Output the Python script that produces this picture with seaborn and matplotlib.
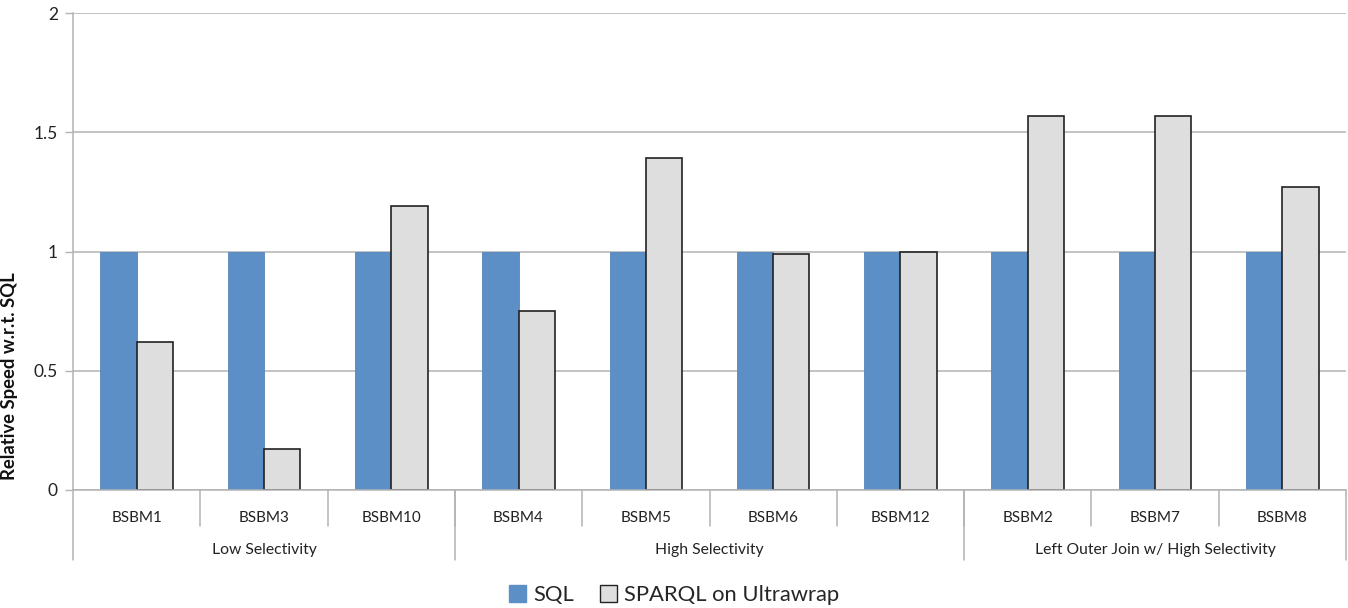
import matplotlib
matplotlib.use("Agg")
import matplotlib.pyplot as plt
import matplotlib.transforms as mtransforms
from matplotlib.patches import Patch
import seaborn as sns
import pandas as pd

categories = ["BSBM1", "BSBM3", "BSBM10", "BSBM4", "BSBM5", "BSBM6", "BSBM12",
              "BSBM2", "BSBM7", "BSBM8"]
groups = ["Low Selectivity", "High Selectivity", "Left Outer Join w/ High Selectivity"]
group_sizes = [3, 4, 3]
sql_values = [1, 1, 1, 1, 1, 1, 1, 1, 1, 1]
sparql_values = [0.62, 0.17, 1.19, 0.75, 1.39, 0.99, 1.00, 1.57, 1.57, 1.27]
series_names = ["SQL", "SPARQL on Ultrawrap"]
y_ticks = [0, 0.5, 1, 1.5, 2]
y_tick_labels = ["0", "0.5", "1", "1.5", "2"]

BLUE = "#5b8fc5"
GREY = "#dedede"

df = pd.DataFrame({
    "query": categories * 2,
    "value": sql_values + sparql_values,
    "series": [series_names[0]] * len(categories) + [series_names[1]] * len(categories),
})

sns.set_style("white")
plt.rcParams["font.family"] = ["Lato", "DejaVu Sans"]

fig = plt.figure(figsize=(13.48, 6.08), dpi=100)
ax = fig.add_axes([73 / 1348, 118 / 608, 1273 / 1348, 477 / 608])

sns.barplot(data=df, x="query", y="value", hue="series", order=categories,
            hue_order=series_names, palette=[BLUE, GREY], width=0.57, gap=0,
            ax=ax, legend=False, saturation=1)

for bar in ax.containers[0]:
    bar.set_edgecolor("#5585bb")
    bar.set_linewidth(0.6)
for bar in ax.containers[1]:
    bar.set_edgecolor("#222222")
    bar.set_linewidth(1.2)

ax.set_ylim(0, 2)
ax.set_xlim(-0.5, len(categories) - 0.5)
ax.set_yticks(y_ticks)
ax.set_yticklabels(y_tick_labels)
ax.yaxis.grid(True, color="#b3b3b3", linewidth=1.1)
ax.set_axisbelow(True)
ax.tick_params(axis="y", length=6, width=1, color="#b3b3b3", labelsize=12.5, pad=5,
               labelcolor="#222222", left=True)
ax.set_xticks([])
ax.set_xlabel("")
ax.set_ylabel("Relative Speed w.r.t. SQL", fontsize=13.3, fontweight="bold",
              color="#111111")
ax.yaxis.set_label_coords((18 - 73) / 1273, (490 - 376) / 477)

for s in ["top", "right"]:
    ax.spines[s].set_visible(False)
ax.spines["left"].set_color("#b3b3b3")
ax.spines["left"].set_linewidth(1.1)
ax.spines["bottom"].set_color("#b3b3b3")
ax.spines["bottom"].set_linewidth(1.1)

trans = mtransforms.blended_transform_factory(ax.transData, ax.transAxes)
px = 1 / 477.0
# category separators and labels
for i, c in enumerate(categories):
    ax.text(i, -28 * px, c, transform=trans, ha="center", va="center",
            fontsize=11, color="#222222")
for i in range(1, len(categories)):
    ax.plot([i - 0.5, i - 0.5], [0, -36 * px], transform=trans, color="#b3b3b3",
            lw=1.1, clip_on=False)
# group separators and labels
start = 0
bounds = [-0.5]
for g, n in zip(groups, group_sizes):
    center = start + (n - 1) / 2
    ax.text(center, -60 * px, g, transform=trans, ha="center", va="center",
            fontsize=11.3, color="#222222")
    start += n
    bounds.append(start - 0.5)
for b in bounds:
    ax.plot([b, b], [0, -70 * px], transform=trans, color="#b3b3b3",
            lw=1.1, clip_on=False)

handles = [Patch(facecolor=BLUE, edgecolor=BLUE, label=series_names[0]),
           Patch(facecolor=GREY, edgecolor="#222222", linewidth=1.0, label=series_names[1])]
fig.legend(handles=handles, loc="center", bbox_to_anchor=(0.5, 13 / 608), ncol=2,
           frameon=False, fontsize=15.8, handlelength=0.8, handleheight=0.8,
           handletextpad=0.3, columnspacing=1.2)

fig.savefig("out.png", dpi=100)
